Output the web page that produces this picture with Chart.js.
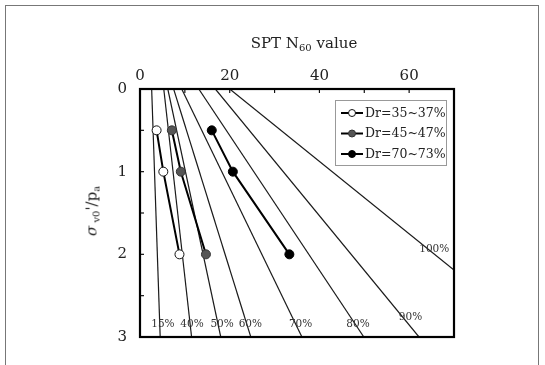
<!DOCTYPE html>
<html>
<head>
<meta charset="utf-8">
<script src="https://cdn.jsdelivr.net/npm/chart.js@4"></script>
<style>
  body { margin: 0; background: #fff; }
  #wrap { position: relative; width: 545px; height: 365px; overflow: hidden; }
  #frame { position: absolute; left: 5px; top: 5px; width: 532px; height: 380px;
           border: 1.5px solid #777; border-bottom: none; }
  .title { position: absolute; font-family: "DejaVu Serif", serif; color: #222; white-space: nowrap; }
  .title sub { font-size: 10px; vertical-align: -3px; }
  #xtitle { left: 304px; top: 43px; font-size: 15px; transform: translate(-50%, -50%); }
  #ytitle { left: 92px; top: 211px; font-size: 15px; transform: translate(-50%, -50%) rotate(-90deg); }
</style>
</head>
<body>
<div id="wrap">
  <div id="frame"></div>
  <canvas id="chart" width="545" height="365" style="position:absolute;left:0;top:0"></canvas>
  <div class="title" id="xtitle">SPT N<sub>60</sub> value</div>
  <div class="title" id="ytitle"><i>σ</i><sub> v0</sub>'/p<sub>a</sub></div>
</div>
<script>
// measured series: normalised stress vs N60
const stress = [0.5, 1, 2];
const nDr35 = [3.7, 5.2, 8.8];
const nDr45 = [7.1, 9.1, 14.7];
const nDr70 = [16.0, 20.7, 33.3];
const seriesLabels = ["Dr=35~37%", "Dr=45~47%", "Dr=70~73%"];

// relative density reference lines (N60 at top, end point)
const drLabels = ["15%", "40%", "50%", "60%", "70%", "80%", "90%", "100%"];
const drStartN = [2.6, 5.3, 6.2, 7.5, 9.3, 13.1, 16.8, 20.0];
const drEndN = [4.5, 11.5, 18.0, 24.7, 36.1, 49.9, 62.2, 70];
const drEndStress = [3, 3, 3, 3, 3, 3, 3, 2.19];
// where each line's label sits
const drLabelN = [5.1, 11.6, 18.3, 24.6, 35.8, 48.6, 60.3, 65.6];
const drLabelStress = [2.84, 2.84, 2.84, 2.84, 2.84, 2.84, 2.76, 1.94];

const xTickLabels = [0, 20, 40, 60];
const yTickLabels = [0, 1, 2, 3];

const FONT = "DejaVu Serif";

function pts(xs, ys) {
    return xs.map((x, i) => ({ x: x, y: ys[i] }));
}

const seriesStyle = [
    { fill: "#ffffff", stroke: "#111" },
    { fill: "#555555", stroke: "#333" },
    { fill: "#000000", stroke: "#000" },
];

let datasets = [nDr35, nDr45, nDr70].map((vals, i) => ({
    label: seriesLabels[i],
    data: pts(vals, stress),
    borderColor: "#000",
    borderWidth: 2,
    pointRadius: 4.5,
    pointBackgroundColor: seriesStyle[i].fill,
    pointBorderColor: seriesStyle[i].stroke,
    pointBorderWidth: 1,
    showLine: true,
    isSeries: true,
}));

drLabels.forEach((lab, i) => {
    datasets.push({
        label: lab,
        data: [{ x: drStartN[i], y: 0 }, { x: drEndN[i], y: drEndStress[i] }],
        borderColor: "#1a1a1a",
        borderWidth: 1.2,
        pointRadius: 0,
        showLine: true,
    });
});

// frame, inward ticks, line labels and legend
const decorations = {
    id: "decorations",
    afterDraw(chart) {
        const c = chart.ctx;
        const a = chart.chartArea;
        const xs = chart.scales.x;
        const ys = chart.scales.y;
        c.save();
        c.strokeStyle = "#111";
        c.lineWidth = 1.2;
        xs.ticks.forEach((t) => {
            const px = xs.getPixelForValue(t.value);
            c.beginPath(); c.moveTo(px, a.top); c.lineTo(px, a.top + 4); c.stroke();
        });
        ys.ticks.forEach((t) => {
            const py = ys.getPixelForValue(t.value);
            c.beginPath(); c.moveTo(a.left, py); c.lineTo(a.left + 4, py); c.stroke();
        });
        c.lineWidth = 2.2;
        c.strokeStyle = "#000";
        c.strokeRect(a.left, a.top, a.right - a.left, a.bottom - a.top);

        // percentage labels
        c.font = "10.5px '" + FONT + "'";
        c.fillStyle = "#333";
        c.textAlign = "center";
        c.textBaseline = "middle";
        drLabels.forEach((lab, i) => {
            c.fillText(lab, xs.getPixelForValue(drLabelN[i]), ys.getPixelForValue(drLabelStress[i]));
        });

        // legend box
        const bx = 335, by = 100, bw = 111, bh = 65;
        c.fillStyle = "#fff";
        c.fillRect(bx, by, bw, bh);
        c.strokeStyle = "#999";
        c.lineWidth = 1;
        c.strokeRect(bx + 0.5, by + 0.5, bw, bh);
        c.font = "12.5px '" + FONT + "'";
        c.textAlign = "left";
        chart.data.datasets.filter((d) => d.isSeries).forEach((d, i) => {
            const ly = by + 13 + i * 20.5;
            c.strokeStyle = "#000";
            c.lineWidth = 2;
            c.beginPath(); c.moveTo(bx + 6, ly); c.lineTo(bx + 28, ly); c.stroke();
            c.beginPath();
            c.arc(bx + 17, ly, 3.5, 0, Math.PI * 2);
            c.fillStyle = d.pointBackgroundColor;
            c.fill();
            c.lineWidth = 1;
            c.strokeStyle = d.pointBorderColor;
            c.stroke();
            c.fillStyle = "#222";
            c.fillText(d.label, bx + 30, ly + 0.5);
        });
        c.restore();
    },
};

const ctx = document.getElementById("chart").getContext("2d");
const myChart = new Chart(ctx, {
    type: "scatter",
    data: { datasets: datasets },
    options: {
        responsive: false,
        animation: false,
        layout: { padding: { left: 0, top: 0, right: 91, bottom: 28 } },
        plugins: {
            legend: { display: false },
            tooltip: { enabled: false },
        },
        scales: {
            x: {
                type: "linear",
                position: "top",
                min: 0,
                max: 70,
                afterFit: (s) => { s.height = 89; },
                ticks: {
                    stepSize: 10,
                    padding: 4,
                    color: "#222",
                    font: { family: FONT, size: 15 },
                    callback: (v) => (xTickLabels.includes(v) ? v : ""),
                },
                grid: { display: false, drawTicks: false },
                border: { display: false },
            },
            y: {
                type: "linear",
                position: "left",
                reverse: true,
                min: 0,
                max: 3,
                afterFit: (s) => { s.width = 140; },
                ticks: {
                    stepSize: 0.5,
                    padding: 13,
                    color: "#222",
                    font: { family: FONT, size: 15 },
                    callback: (v) => (yTickLabels.includes(v) ? v : ""),
                },
                grid: { display: false, drawTicks: false },
                border: { display: false },
            },
        },
    },
    plugins: [decorations],
});
</script>
</body>
</html>
